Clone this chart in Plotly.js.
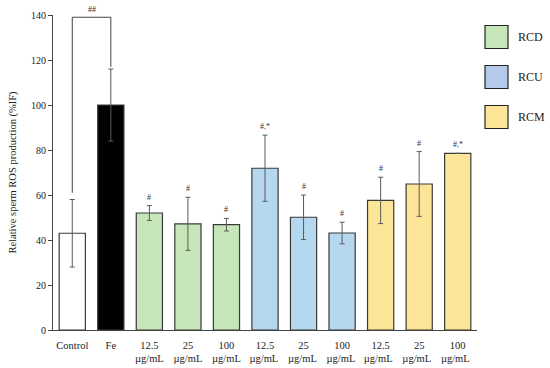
<!DOCTYPE html>
<html>
<head>
<meta charset="utf-8">
<script src="https://cdn.plot.ly/plotly-3.0.1.min.js"></script>
<style>html,body{margin:0;padding:0;background:#fff;}#chart{width:550px;height:368px;}</style>
</head>
<body>
<div id="chart"></div>
<script>
// ---- data ----
var categories = ["Control", "Fe", "12.5<br>µg/mL", "25<br>µg/mL", "100<br>µg/mL", "12.5<br>µg/mL ", "25<br>µg/mL ", "100<br>µg/mL ", "12.5<br>µg/mL  ", "25<br>µg/mL  ", "100<br>µg/mL  "];
var values = [43, 100, 52, 47.2, 46.8, 71.9, 50.1, 43.1, 57.6, 64.9, 78.5];
var errors = [15, 16, 3.3, 11.8, 2.8, 14.7, 9.9, 4.8, 10.3, 14.4, 0];
var groups = ["Control", "Fe", "RCD", "RCD", "RCD", "RCU", "RCU", "RCU", "RCM", "RCM", "RCM"];
var marks = ["", "", "#", "#", "#", "#,*", "#", "#", "#", "#", "#,*"];
var legendNames = ["RCD", "RCU", "RCM"];
var yTicks = [0, 20, 40, 60, 80, 100, 120, 140];

// ---- styles ----
var groupColors = {Control: "#ffffff", Fe: "#000000", RCD: "#c6e6b9", RCU: "#b5d7ef", RCM: "#fde597"};
var legendColors = {RCD: "#c6e6b9", RCU: "#b5c9eb", RCM: "#fde597"};
var serif = "'Liberation Serif', 'DejaVu Serif', serif";

var trace = {
  type: "bar",
  x: categories,
  y: values,
  width: 0.68,
  marker: {color: groups.map(function(g){return groupColors[g];}), line: {color: "#3a3a3a", width: 1.2}},
  error_y: {type: "data", array: errors, visible: true, color: "#5a5a5a", thickness: 1, width: 2.5},
  hoverinfo: "skip"
};

var annotations = [];
for (var i = 0; i < values.length; i++) {
  if (marks[i]) {
    annotations.push({x: categories[i], y: values[i] + errors[i], xref: "x", yref: "y",
      text: marks[i], showarrow: false, yanchor: "bottom", yshift: 2,
      font: {family: serif, size: 8, color: "#333"}});
  }
}
// bracket between Control and Fe
var bracketY = 139;
annotations.push({x: 0.5, y: bracketY, xref: "x", yref: "y", text: "##", showarrow: false,
  yanchor: "bottom", yshift: 1, font: {family: serif, size: 8, color: "#333"}});

var shapes = [
  {type: "line", xref: "x", yref: "y", x0: 0, x1: 1, y0: bracketY, y1: bracketY, line: {color: "#444", width: 1}},
  {type: "line", xref: "x", yref: "y", x0: 0, x1: 0, y0: bracketY, y1: values[0] + errors[0] + 3, line: {color: "#444", width: 1}},
  {type: "line", xref: "x", yref: "y", x0: 1, x1: 1, y0: bracketY, y1: values[1] + errors[1] + 1, line: {color: "#444", width: 1}}
];

// legend boxes (paper coordinates)
var legTop = [30, 70, 110];
legendNames.forEach(function(n, k) {
  var cy = legTop[k] + 7;
  var y0 = 1 - (cy + 11.5 - 15) / 315, y1 = 1 - (cy - 11.5 - 15) / 315;
  var x0 = (485 - 53) / 424, x1 = (508 - 53) / 424;
  shapes.push({type: "rect", xref: "paper", yref: "paper", x0: x0, x1: x1, y0: y0, y1: y1,
    fillcolor: legendColors[n], line: {color: "#222", width: 1.2}});
  annotations.push({xref: "paper", yref: "paper", x: (516 - 53) / 424, y: (y0 + y1) / 2,
    xanchor: "left", yanchor: "middle", text: n, showarrow: false,
    font: {family: serif, size: 12, color: "#222"}});
});

var layout = {
  width: 550, height: 368,
  margin: {l: 53, r: 73, t: 15, b: 38},
  paper_bgcolor: "#fff", plot_bgcolor: "#fff",
  showlegend: false,
  bargap: 0.3,
  xaxis: {type: "category", tickvals: categories, ticktext: categories, showgrid: false, zeroline: false,
    showline: true, linecolor: "#444", linewidth: 1, ticks: "", range: [-0.5, 10.5],
    ticklabelstandoff: 5,
    tickfont: {family: serif, size: 10.5, color: "#222"}, fixedrange: true},
  yaxis: {range: [0, 140], tickvals: yTicks, showgrid: false, zeroline: false, showline: true,
    linecolor: "#444", linewidth: 1, ticks: "outside", ticklen: 4, tickcolor: "#444",
    tickfont: {family: serif, size: 10, color: "#222"},
    title: {text: "Relative sperm ROS production (%IF)", font: {family: serif, size: 10.5, color: "#222"}, standoff: 12}},
  annotations: annotations,
  shapes: shapes
};

Plotly.newPlot("chart", [trace], layout, {staticPlot: true, displayModeBar: false});
</script>
</body>
</html>
